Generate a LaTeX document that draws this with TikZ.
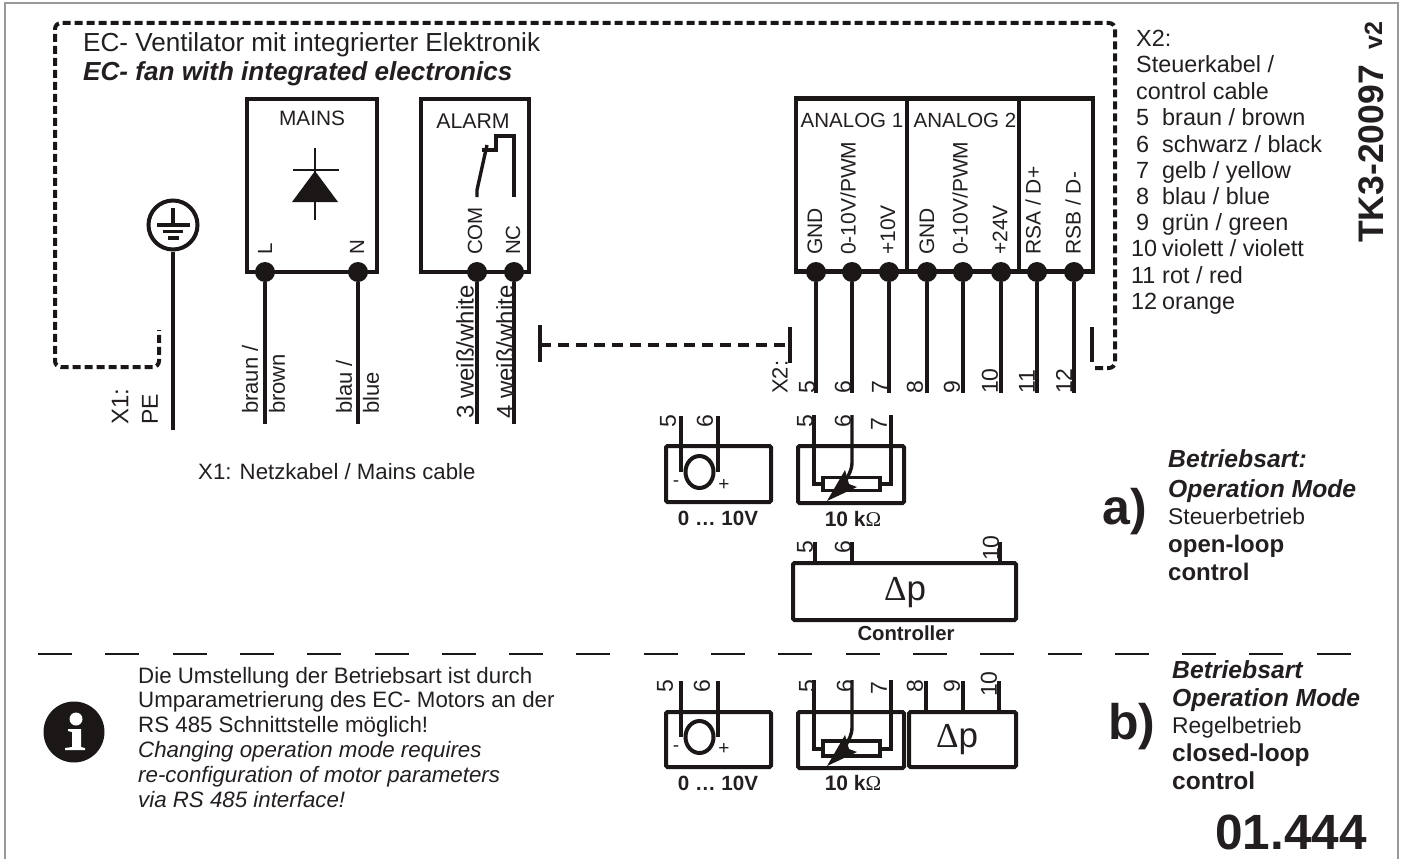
\documentclass[tikz,border=0pt]{standalone}
\usepackage{fontspec}
\setmainfont{Liberation Sans}
\newfontfamily\serifg{Liberation Serif}
\usetikzlibrary{calc}
\definecolor{ink}{HTML}{1A1716}
\definecolor{txt}{HTML}{231F20}
\newcommand{\fs}[1]{\fontsize{#1}{#1}\selectfont}
\newcommand{\sla}{/}
\tikzset{
  x=1pt,y=-1pt,
  thick line/.style={draw=ink,line width=4pt},
  mid line/.style={draw=ink,line width=3.4pt},
  dashline/.style={draw=ink,line width=4pt,dash pattern=on 8pt off 4pt},
  sep/.style={draw=ink,line width=2pt,dash pattern=on 34pt off 33.3pt},
  dot/.style={circle,fill=ink,inner sep=0pt,minimum size=20pt},
  bigbox/.style={draw=ink,line width=4.2pt,inner sep=0pt},
  smallbox/.style={draw=ink,line width=4pt,rounded corners=1.5pt,inner sep=0pt},
  lbl/.style={text=txt,inner sep=0pt,font=\fs{20.5}},
  lblr/.style={lbl,rotate=90,anchor=west},
  cable/.style={lblr,font=\fs{22}},
  num/.style={text=txt,inner sep=0pt,rotate=90,anchor=west,font=\fs{23}},
  txtl/.style={text=txt,inner sep=0pt,anchor=base west},
}
\begin{document}
\begin{tikzpicture}
\useasboundingbox (0,0) rectangle (1402,859);
% frame
\draw[draw=black!40,line width=1.4pt] (5,859) -- (5,3) -- (1398,3) -- (1398,859);
% enclosure
\draw[dashline,rounded corners=6pt] (1095,368) -- (1115,368) -- (1115,23) -- (55,23) -- (55,367) -- (159,367) -- (159,330);
\node[txtl,font=\fs{26.1}] (t1) at (83,52) {EC- Ventilator mit integrierter Elektronik};
\node[txtl,font=\fs{26.1}\bfseries\itshape] (t2) at (83,81) {EC- fan with integrated electronics};
% earth
\node[circle,draw=ink,line width=4pt,minimum size=49pt,inner sep=0pt] (pe) at (173,225) {};
\coordinate (peend) at (173,430);
\draw[thick line] (pe.south) -- (peend);
\draw[draw=ink,line width=3.2pt] (173,208) -- (173,225);
\draw[draw=ink,line width=3.2pt] (157,225) -- (190,225);
\draw[draw=ink,line width=3.2pt] (163,231.5) -- (183,231.5);
\draw[draw=ink,line width=3.2pt] (168,238) -- (179,238);
\node[cable,font=\fs{24}] (x1) at (120,425) {X1:};
\node[cable,font=\fs{23}] (pelbl) at (150,425) {PE};
% mains
\node[bigbox,minimum width=130pt,minimum height=173pt] (mains) at (312,185.5) {};
\node[lbl,font=\fs{20.8}] (mainst) at (312,118) {MAINS};
\draw[draw=ink,line width=2.2pt] (315,148) -- (315,220);
\draw[draw=ink,line width=2.2pt] (293,170) -- (339,170);
\fill[ink] (315,171) -- (338,202) -- (292,202) -- cycle;
\node[dot] (dL) at (265,272) {};
\node[dot] (dN) at (358,272) {};
\coordinate (eL) at (265,424); \coordinate (eN) at (358,424);
\draw[thick line] (dL) -- (eL);
\draw[thick line] (dN) -- (eN);
\node[lblr] (lL) at (265,255) {L};
\node[lblr] (lN) at (357,255) {N};
\node[cable] (b1) at (250,414) {braun /};
\node[cable] (b2) at (277,414) {brown};
\node[cable] (b3) at (344,414) {blau /};
\node[cable] (b4) at (371,414) {blue};
% alarm
\node[bigbox,minimum width=108pt,minimum height=173pt] (alarm) at (475,185.5) {};
\node[lbl,font=\fs{21.3}] (alarmt) at (473,121) {ALARM};
\draw[mid line] (514,197) -- (514,136) -- (496,136) -- (496,150) -- (482,150);
\draw[mid line] (477,197) -- (477,190) -- (487,145);
\node[dot] (dC) at (477,272) {};
\node[dot] (dNC) at (514,272) {};
\coordinate (eC) at (477,424); \coordinate (eNC) at (514,424);
\draw[thick line] (dC) -- (eC);
\draw[thick line] (dNC) -- (eNC);
\node[lblr] (lC) at (475,255) {COM};
\node[lblr] (lNC) at (513,255) {NC};
\node[cable,font=\fs{24}] (w3) at (465,419) {3 weiß\sla white};
\node[cable,font=\fs{24}] (w4) at (505,419) {4 weiß\sla white};
% interrupted cable marker
\coordinate (tl) at (540,345); \coordinate (tr) at (790,345);
\draw[thick line] (540,325) -- (540,362);
\draw[thick line] (790,327) -- (790,363);
\draw[dashline,dash pattern=on 11pt off 7pt] (tl) -- (tr);
\draw[thick line] (1092,327) -- (1092,362);
\node[cable] (x2) at (780,394) {X2:};
% analog block
\node[bigbox,minimum width=297pt,minimum height=173pt] (an) at (944.5,185) {};
\draw[thick line] (907,98) -- (907,272);
\draw[thick line] (1019,98) -- (1019,272);
\node[lbl,font=\fs{20.5}] (an1) at (852,120) {ANALOG 1};
\node[lbl,font=\fs{20.5}] (an2) at (965,120) {ANALOG 2};
\foreach \n/\x/\lx/\t/\nx/\nt in {a/816/815/GND/807/5,b/852/848/0-10V\sla PWM/843/6,c/889/888/{+10V}/880/7,d/927/927/GND/915/8,e/963/960/0-10V\sla PWM/952/9,f/1001/1000/{+24V}/990/10,g/1037/1033/{RSA \sla\ D+}/1027/11,h/1074/1073/{RSB \sla\ D-}/1064/12}{
  \node[dot] (p\n) at (\x,272) {};
  \coordinate (q\n) at (\x,393);
  \draw[thick line] (p\n) -- (q\n);
  \node[lblr,font=\fs{21}] (pl\n) at (\lx,255) {\t};
  \node[num] (pn\n) at (\nx,394) {\nt};
}
% right list
\foreach \n/\y/\x/\t in {a/47/1136/X2:,b/73/1136/Steuerkabel \sla,c/99/1136/control cable,d/125/1136/5,e/152/1136/6,f/178/1136/7,g/204/1136/8,h/230/1136/9,i/256/1131/10,j/283/1131/11,k/309/1131/12}{
  \node[txtl,font=\fs{23.4}] (l\n) at (\x,\y) {\t};
}
\foreach \n/\y/\x/\t in {d/125/1162/braun \sla\ brown,e/152/1162/schwarz \sla\ black,f/178/1162/gelb \sla\ yellow,g/204/1162/blau \sla\ blue,h/230/1162/grün \sla\ green,i/256/1162/violett \sla\ violett,j/283/1162/rot \sla\ red,k/309/1162/orange}{
  \node[txtl,font=\fs{23.4}] (m\n) at (\x,\y) {\t};
}
\node[rotate=90,anchor=base west,inner sep=0pt,text=txt,font=\fs{35.5}\bfseries] (tk) at (1383,243) {TK3-20097};
\node[rotate=90,anchor=base west,inner sep=0pt,text=txt,font=\fs{25}\bfseries] (v2) at (1382,50) {v2};
\node[txtl,font=\fs{22.2}] (netz) at (198,479) {X1: Netzkabel / Mains cable};
% a) row
\node[smallbox,minimum width=105pt,minimum height=56pt] (v1) at (718.5,474) {};
\draw[thick line] (681,416) -- (681,472);
\draw[thick line] (718,416) -- (718,472);
\draw[thick line,fill=white] (699.5,472) ellipse [x radius=14,y radius=16];
\node[lbl,font=\fs{19}] (v1m) at (676,484) {-};
\node[lbl,font=\fs{19}] (v1p) at (724,485) {+};
\node[lbl,font=\fs{20.6}\bfseries] (v1t) at (718,518) {0 … 10V};
\node[num] (n1) at (668,428) {5};
\node[num] (n2) at (705,428) {6};
\node[smallbox,minimum width=106pt,minimum height=57pt] (r1) at (851,474.5) {};
\draw[mid line] (814,415) -- (814,484) -- (823,484);
\draw[mid line] (891,415) -- (891,484) -- (880,484);
\draw[mid line] (852,415) -- (852,462) .. controls (852,470) and (849,474) .. (845,482);
\draw[mid line] (823,477.5) rectangle (880,490.5);
\fill[ink] (827,501) -- (845,470) -- (849,484) -- (857,487) -- cycle;
\node[lbl,font=\fs{21}\bfseries] (r1t) at (853,519) {10 k{\serifg\mdseries Ω}};
\node[num] (n3) at (805,428) {5};
\node[num] (n4) at (843,428) {6};
\node[num] (n5) at (879,431) {7};
% controller
\node[smallbox,minimum width=223pt,minimum height=57pt] (c1) at (904.5,591.5) {};
\draw[thick line] (815,542) -- (815,563);
\draw[thick line] (852,542) -- (852,563);
\draw[thick line] (1000,542) -- (1000,563);
\node[num] (n6) at (805,554) {5};
\node[num] (n7) at (843,554) {6};
\node[num] (n8) at (991,561) {10};
\node[lbl,font=\fs{35}] (dp1) at (905,593) {{\serifg Δ}p};
\node[lbl,font=\fs{20.3}\bfseries] (ct) at (906,633) {Controller};
% separator
\coordinate (s1) at (38,653.5); \coordinate (s2) at (1352,653.5);
\draw[sep] (s1) -- (s2);
% a) text
\node[lbl,font=\fs{50}\bfseries] (ah) at (1125,512) {a)};
\node[txtl,font=\fs{24.7}\bfseries\itshape] (a1) at (1168,467) {Betriebsart:};
\node[txtl,font=\fs{24.7}\bfseries\itshape] (a2) at (1168,497) {Operation Mode};
\node[txtl,font=\fs{22.8}] (a3) at (1168,524) {Steuerbetrieb};
\node[txtl,font=\fs{24}\bfseries] (a4) at (1168,552) {open-loop};
\node[txtl,font=\fs{24}\bfseries] (a5) at (1168,580) {control};
% b) row
\node[smallbox,minimum width=105pt,minimum height=55pt] (v2b) at (718.5,739.5) {};
\draw[thick line] (681,681) -- (681,737);
\draw[thick line] (718,681) -- (718,737);
\draw[thick line,fill=white] (699.5,737) ellipse [x radius=14,y radius=16];
\node[lbl,font=\fs{19}] (v2m) at (676,749) {-};
\node[lbl,font=\fs{19}] (v2p) at (724,749) {+};
\node[lbl,font=\fs{20.6}\bfseries] (v2t) at (718,783) {0 … 10V};
\node[num] (n9) at (665,693) {5};
\node[num] (n10) at (702,693) {6};
\node[smallbox,minimum width=106pt,minimum height=56pt] (r2) at (851,740) {};
\draw[mid line] (814,680) -- (814,749) -- (823,749);
\draw[mid line] (891,680) -- (891,749) -- (880,749);
\draw[mid line] (852,680) -- (852,727) .. controls (852,735) and (849,739) .. (845,747);
\draw[mid line] (823,741) rectangle (880,756);
\fill[ink] (827,766) -- (845,735) -- (849,749) -- (857,752) -- cycle;
\node[lbl,font=\fs{21}\bfseries] (r2t) at (853,783) {10 k{\serifg\mdseries Ω}};
\node[num] (n11) at (807,693) {5};
\node[num] (n12) at (845,693) {6};
\node[num] (n13) at (879,695) {7};
\node[smallbox,minimum width=107pt,minimum height=55pt] (c2) at (962.5,739.5) {};
\draw[thick line] (926,681) -- (926,712);
\draw[thick line] (963,681) -- (963,712);
\draw[thick line] (999,681) -- (999,712);
\node[num] (n14) at (915,693) {8};
\node[num] (n15) at (952,693) {9};
\node[num] (n16) at (989,697) {10};
\node[lbl,font=\fs{35}] (dp2) at (957,740) {{\serifg Δ}p};
% b) text
\node[lbl,font=\fs{50}\bfseries] (bh) at (1132,727) {b)};
\node[txtl,font=\fs{24.7}\bfseries\itshape] (b1) at (1172,678) {Betriebsart};
\node[txtl,font=\fs{24.7}\bfseries\itshape] (b2) at (1172,706) {Operation Mode};
\node[txtl,font=\fs{22.8}] (b3) at (1172,733) {Regelbetrieb};
\node[txtl,font=\fs{24.5}\bfseries] (b4) at (1172,761) {closed-loop};
\node[txtl,font=\fs{24.5}\bfseries] (b5) at (1172,789) {control};
\node[txtl,font=\fs{49.5}\bfseries] (code) at (1215,849) {01.444};
% info
\foreach \n/\y/\t in {a/683/Die Umstellung der Betriebsart ist durch,b/707/Umparametrierung des EC- Motors an der,c/732/RS 485 Schnittstelle möglich!}{
  \node[txtl,font=\fs{22.3}] (i\n) at (138,\y) {\t};
}
\foreach \n/\y/\t in {d/757/Changing operation mode requires,e/782/re-configuration of motor parameters,f/807/via RS 485 interface!}{
  \node[txtl,font=\fs{22.3}\itshape] (i\n) at (138,\y) {\t};
}
\fill[ink] (74,732) circle (30.5);
\fill[white] (76,719) circle (6.5);
\fill[white] (68,729) -- (81,729) -- (81,747) -- (85,748) -- (85,750) -- (65,750) -- (65,748) -- (72,747) -- (72,732) -- (68,731) -- cycle;
\end{tikzpicture}
\end{document}
